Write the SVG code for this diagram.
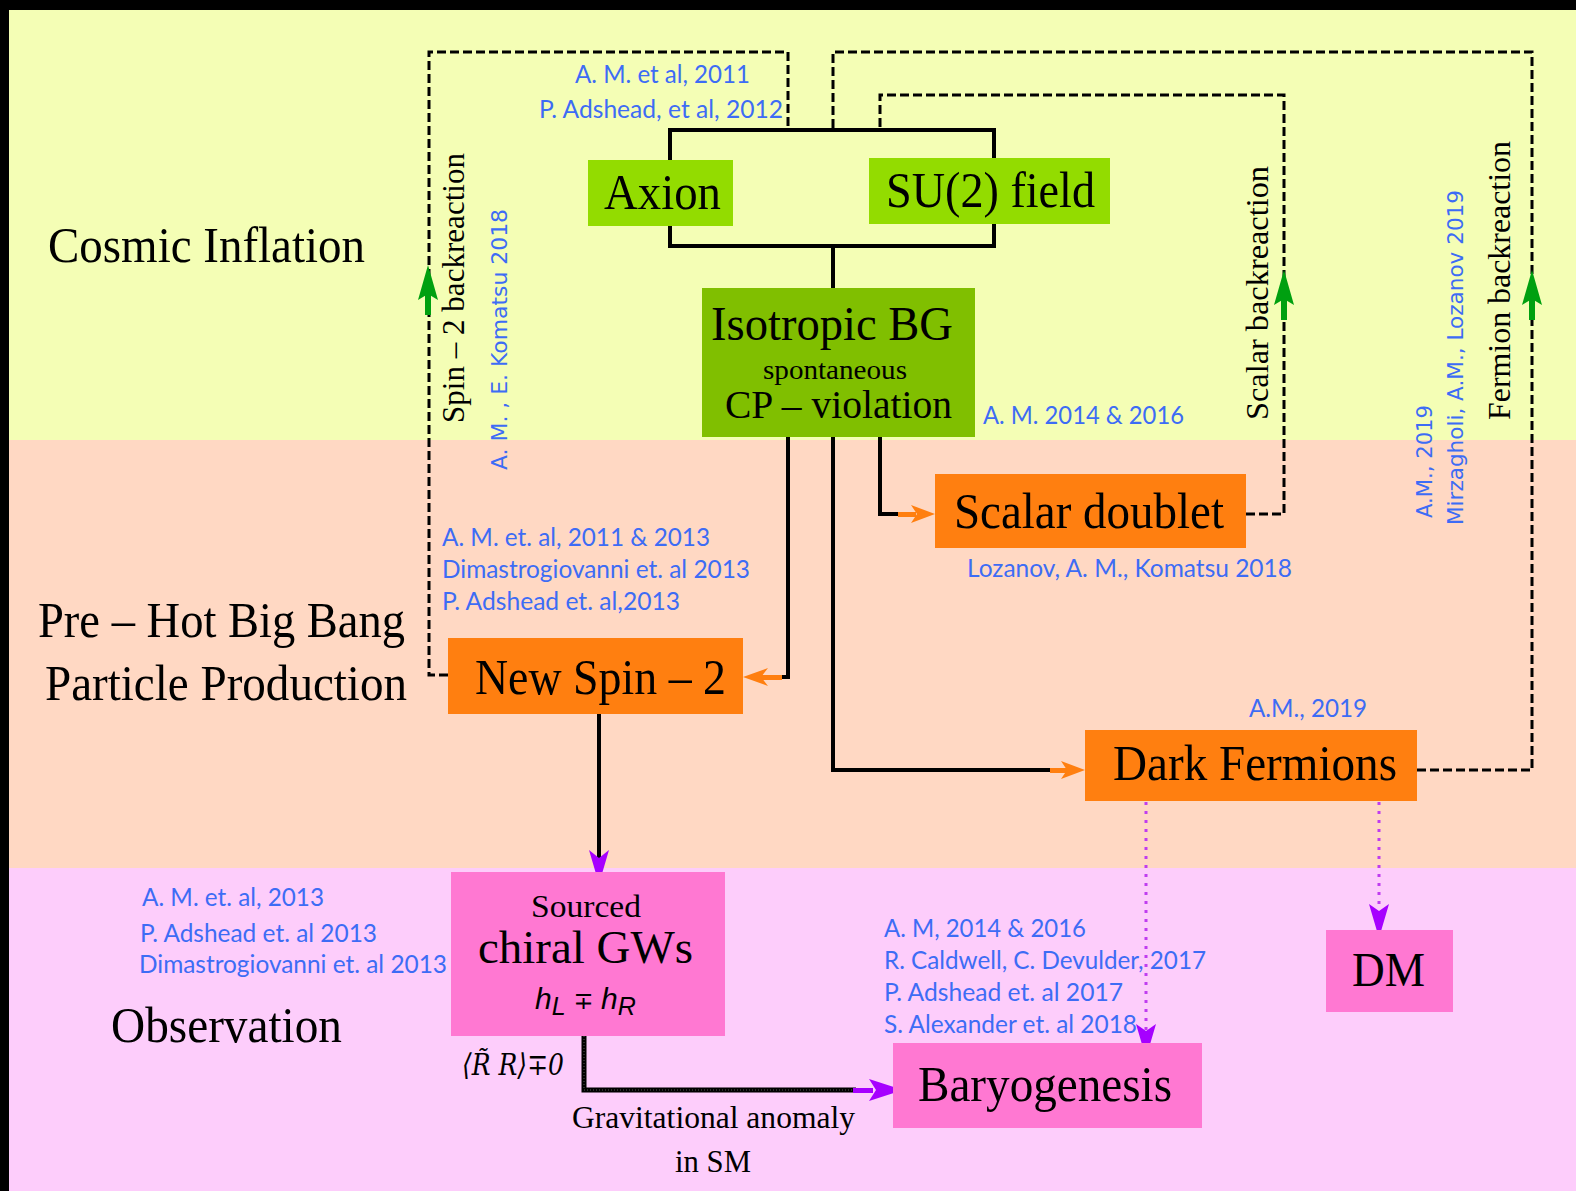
<svg xmlns="http://www.w3.org/2000/svg" width="1576" height="1191" viewBox="0 0 1576 1191">
<style>
.serif{font-family:"Liberation Serif","Times New Roman",serif;fill:#000}
.big{font-size:51px}
.ref{font-family:Lato,"Liberation Sans",sans-serif;font-size:25px;fill:#3d6cf5}
.vref{font-family:"DejaVu Sans","Liberation Sans",sans-serif;font-size:21px;fill:#3d6cf5}
.solid{fill:none;stroke:#000;stroke-width:4;stroke-linejoin:miter}
.dash{fill:none;stroke:#000;stroke-width:3;stroke-dasharray:9 4}
.dot{fill:none;stroke:#c03cf0;stroke-width:3;stroke-dasharray:3 6}
.green{fill:#93dc00}
.dgreen{fill:#80bf00}
.orange{fill:#ff7f10}
.pink{fill:#ff78d2}
.oarr{fill:#ff7f10}
.parr{fill:#a600ff}
.garr{fill:#00a010}
</style>
<rect x="0" y="0" width="1576" height="1191" fill="#000"/>
<rect x="9" y="10" width="1567" height="430" fill="#f4feb5"/>
<rect x="9" y="440" width="1567" height="428" fill="#ffd8c3"/>
<rect x="9" y="868" width="1567" height="323" fill="#fdcdfb"/>

<g id="connectors">
  <rect class="solid" x="670" y="130" width="324" height="116"/>
  <line class="solid" x1="833" y1="246" x2="833" y2="289"/>
  <polyline class="dash" points="448,675 429,675 429,52 788,52 788,130"/>
  <polyline class="dash" points="1417,770 1532,770 1532,52 833,52 833,130"/>
  <polyline class="dash" points="1246,514 1284,514 1284,95 880,95 880,130"/>
  <path class="garr" d="M428,265 L438,300 L428,294 L418,300 Z"/>
  <rect class="garr" x="425" y="292" width="6" height="23"/>
  <path class="garr" d="M1284,270 L1294,305 L1284,299 L1274,305 Z"/>
  <rect class="garr" x="1281" y="297" width="6" height="23"/>
  <path class="garr" d="M1532,270 L1542,305 L1532,299 L1522,305 Z"/>
  <rect class="garr" x="1529" y="297" width="6" height="23"/>
  <polyline class="solid" points="788,437 788,677 780,677"/>
  <rect class="oarr" x="758" y="675" width="24" height="5"/>
  <path class="oarr" d="M743,677 L768,668 L761,677 L768,686 Z"/>
  <polyline class="solid" points="880,437 880,514 900,514"/>
  <rect class="oarr" x="898" y="512" width="18" height="5"/>
  <path class="oarr" d="M935,514 L911,505 L917,514 L911,523 Z"/>
  <polyline class="solid" points="833,437 833,770 1052,770"/>
  <rect class="oarr" x="1050" y="768" width="18" height="5"/>
  <path class="oarr" d="M1085,770 L1061,761 L1067,770 L1061,779 Z"/>
  <line class="solid" x1="599" y1="714" x2="599" y2="860"/>
  <path class="parr" d="M599,884 L589,850 L599,858 L609,850 Z"/>
  <polyline fill="none" stroke="#000" stroke-width="5" points="584,1036 584,1090 856,1090"/>
  <polyline fill="none" stroke="#fff" stroke-opacity="0.35" stroke-width="1" stroke-dasharray="1 2" points="584,1036 584,1090 856,1090"/>
  <rect class="parr" x="853" y="1088" width="20" height="5"/>
  <path class="parr" d="M903,1090 L869,1079 L876,1090 L869,1101 Z"/>
  <line class="dot" x1="1146" y1="802" x2="1146" y2="1030"/>
  <path class="parr" d="M1146,1058 L1136,1024 L1146,1031 L1156,1024 Z"/>
  <line class="dot" x1="1379" y1="802" x2="1379" y2="910"/>
  <path class="parr" d="M1379,938 L1369,904 L1379,911 L1389,904 Z"/>
</g>

<g id="axion">
  <rect class="green" x="588" y="160" width="145" height="66"/>
  <text class="serif" font-size="50" x="604" y="209" textLength="117" lengthAdjust="spacingAndGlyphs">Axion</text>
</g>
<g id="su2">
  <rect class="green" x="869" y="158" width="241" height="66"/>
  <text class="serif" font-size="50" x="886" y="207" textLength="209" lengthAdjust="spacingAndGlyphs">SU(2) field</text>
</g>
<g id="isotropic">
  <rect class="dgreen" x="702" y="288" width="273" height="149"/>
  <text class="serif" font-size="48" x="711" y="340" textLength="242" lengthAdjust="spacingAndGlyphs">Isotropic BG</text>
  <text class="serif" font-size="27" x="763" y="379" textLength="144" lengthAdjust="spacingAndGlyphs">spontaneous</text>
  <text class="serif" font-size="40" x="725" y="418" textLength="227" lengthAdjust="spacingAndGlyphs">CP – violation</text>
</g>
<g id="scalar">
  <rect class="orange" x="935" y="474" width="311" height="74"/>
  <text class="serif big" x="954" y="528" textLength="270" lengthAdjust="spacingAndGlyphs">Scalar doublet</text>
</g>
<g id="spin2">
  <rect class="orange" x="448" y="638" width="295" height="76"/>
  <text class="serif big" x="475" y="694" textLength="251" lengthAdjust="spacingAndGlyphs">New Spin – 2</text>
</g>
<g id="fermions">
  <rect class="orange" x="1085" y="730" width="332" height="71"/>
  <text class="serif big" x="1113" y="780" textLength="284" lengthAdjust="spacingAndGlyphs">Dark Fermions</text>
</g>
<g id="gws">
  <rect class="pink" x="451" y="872" width="274" height="164"/>
  <text class="serif" font-size="32" x="531" y="917" textLength="110" lengthAdjust="spacingAndGlyphs">Sourced</text>
  <text class="serif" font-size="46" x="478" y="963" textLength="215" lengthAdjust="spacingAndGlyphs">chiral GWs</text>
  <text font-family="Liberation Sans, Arial, sans-serif" font-style="italic" font-size="30" x="535" y="1009">h<tspan font-size="25" dy="6">L</tspan><tspan font-style="normal" font-family="DejaVu Sans, sans-serif" font-size="24" dy="-6"> ∓ </tspan>h<tspan font-size="25" dy="6">R</tspan></text>
</g>
<g id="baryogenesis">
  <rect class="pink" x="893" y="1043" width="309" height="85"/>
  <text class="serif big" x="918" y="1101" textLength="254" lengthAdjust="spacingAndGlyphs">Baryogenesis</text>
</g>
<g id="dm">
  <rect class="pink" x="1326" y="930" width="127" height="82"/>
  <text class="serif" font-size="48" x="1352" y="986" textLength="73" lengthAdjust="spacingAndGlyphs">DM</text>
</g>

<g id="labels">
  <text class="serif big" x="48" y="262" textLength="317" lengthAdjust="spacingAndGlyphs">Cosmic Inflation</text>
  <text class="serif big" x="38" y="637" textLength="367" lengthAdjust="spacingAndGlyphs">Pre – Hot Big Bang</text>
  <text class="serif big" x="45" y="700" textLength="362" lengthAdjust="spacingAndGlyphs">Particle Production</text>
  <text class="serif big" x="111" y="1042" textLength="231" lengthAdjust="spacingAndGlyphs">Observation</text>
  <text class="serif" font-size="32" x="572" y="1128" textLength="283" lengthAdjust="spacingAndGlyphs">Gravitational anomaly</text>
  <text class="serif" font-size="32" x="675" y="1172" textLength="76" lengthAdjust="spacingAndGlyphs">in SM</text>
  <text font-family="DejaVu Serif, Liberation Serif, serif" font-style="italic" font-size="30" x="462" y="1075" textLength="102" lengthAdjust="spacingAndGlyphs">⟨R̃ R⟩∓0</text>

  <text class="serif" font-size="31" transform="translate(464,423) rotate(-90)" textLength="270" lengthAdjust="spacingAndGlyphs">Spin – 2 backreaction</text>
  <text class="serif" font-size="31" transform="translate(1268,420) rotate(-90)" textLength="254" lengthAdjust="spacingAndGlyphs">Scalar  backreaction</text>
  <text class="serif" font-size="31" transform="translate(1510,420) rotate(-90)" textLength="279" lengthAdjust="spacingAndGlyphs">Fermion  backreaction</text>

  <text class="vref" transform="translate(507,470) rotate(-90)" textLength="261" lengthAdjust="spacingAndGlyphs">A. M. , E. Komatsu  2018</text>
  <text class="vref" transform="translate(1432,518) rotate(-90)" textLength="113" lengthAdjust="spacingAndGlyphs">A.M., 2019</text>
  <text class="vref" transform="translate(1463,525) rotate(-90)" textLength="335" lengthAdjust="spacingAndGlyphs">Mirzagholi, A.M., Lozanov 2019</text>

  <text class="ref" x="575" y="83" textLength="175" lengthAdjust="spacingAndGlyphs">A. M. et al, 2011</text>
  <text class="ref" x="539" y="118" textLength="244" lengthAdjust="spacingAndGlyphs">P. Adshead, et al, 2012</text>
  <text class="ref" x="983" y="424" textLength="201" lengthAdjust="spacingAndGlyphs">A. M. 2014 &amp; 2016</text>
  <text class="ref" x="442" y="546" textLength="268" lengthAdjust="spacingAndGlyphs">A. M. et. al, 2011 &amp; 2013</text>
  <text class="ref" x="442" y="578" textLength="308" lengthAdjust="spacingAndGlyphs">Dimastrogiovanni et. al 2013</text>
  <text class="ref" x="442" y="610" textLength="238" lengthAdjust="spacingAndGlyphs">P. Adshead et. al,2013</text>
  <text class="ref" x="967" y="577" textLength="325" lengthAdjust="spacingAndGlyphs">Lozanov, A. M., Komatsu 2018</text>
  <text class="ref" x="1249" y="717" textLength="118" lengthAdjust="spacingAndGlyphs">A.M., 2019</text>
  <text class="ref" x="142" y="906" textLength="182" lengthAdjust="spacingAndGlyphs">A. M. et. al, 2013</text>
  <text class="ref" x="140" y="942" textLength="237" lengthAdjust="spacingAndGlyphs">P. Adshead et. al 2013</text>
  <text class="ref" x="139" y="973" textLength="308" lengthAdjust="spacingAndGlyphs">Dimastrogiovanni et. al 2013</text>
  <text class="ref" x="884" y="937" textLength="202" lengthAdjust="spacingAndGlyphs">A. M, 2014 &amp; 2016</text>
  <text class="ref" x="884" y="969" textLength="322" lengthAdjust="spacingAndGlyphs">R. Caldwell, C. Devulder, 2017</text>
  <text class="ref" x="884" y="1001" textLength="239" lengthAdjust="spacingAndGlyphs">P. Adshead et. al 2017</text>
  <text class="ref" x="884" y="1033" textLength="253" lengthAdjust="spacingAndGlyphs">S. Alexander et. al 2018</text>
</g>
</svg>
